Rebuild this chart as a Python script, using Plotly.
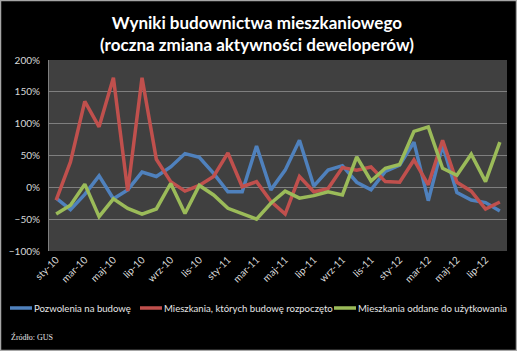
import plotly.graph_objects as go

months = ["sty", "lut", "mar", "kwi", "maj", "cze", "lip", "sie", "wrz", "paź", "lis", "gru"]
categories = [f"{m}-{y}" for y in ["10", "11", "12"] for m in months][:32]

pozwolenia = [-17, -35, -11, 18, -18, -4, 24, 17, 32, 53, 47, 22, -7, -7, 65, -4,
              27, 74, 2, 27, 34, 8, -4, 25, 35, 71, -21, 66, -8, -20, -24, -37]
rozpoczete = [-20, 40, 135, 95, 172, -6, 172, 44, 9, -6, 3, 17, 54, 1, 9, -22,
              -42, 17, -7, -2, 31, 27, 32, 9, 8, 43, 4, 74, 8, -6, -34, -23]
oddane = [-42, -28, 5, -46, -18, -33, -42, -34, 6, -41, 3, -12, -33, -41, -50, -25,
          -6, -17, -13, -7, -12, 48, 10, 30, 36, 88, 95, 30, 19, 52, 9, 71]

series_names = ["Pozwolenia na budowę", "Mieszkania, których budowę rozpoczęto",
                "Mieszkania oddane do użytkowania"]
series_values = [pozwolenia, rozpoczete, oddane]
series_colors = ["#4F81BD", "#C0504D", "#9BBB59"]

W, H = 517, 351
ml, mr, mt, mb = 49, 10, 60, 100
pw, ph = W - ml - mr, H - mt - mb


def px2paper_x(p):
    return (p - ml) / pw


def px2paper_y(p):
    return (H - mb - p) / ph


fig = go.Figure()
x = list(range(len(categories)))
for name, vals, col in zip(series_names, series_values, series_colors):
    fig.add_trace(go.Scatter(x=x, y=vals, mode="lines", name=name,
                             line=dict(color=col, width=3.5), showlegend=False))

tickvals = x[::2]
ticktext = categories[::2]

fig.update_layout(
    width=W, height=H,
    margin=dict(l=ml, r=mr, t=mt, b=mb),
    paper_bgcolor="#000000",
    plot_bgcolor="#404040",
    font=dict(family="Lato, Open Sans, sans-serif", color="#d9d9d9", size=10),
    title=dict(text="<b>Wyniki budownictwa mieszkaniowego<br>(roczna zmiana aktywności deweloperów)</b>",
               x=0.497, xanchor="center", y=1 - 29 / H, yanchor="middle",
               font=dict(size=17, color="#ffffff", family="Lato, Open Sans, sans-serif")),
    xaxis=dict(range=[-0.5, len(categories) - 0.5], tickvals=tickvals, ticktext=ticktext,
               tickangle=-45, showgrid=False, zeroline=False, showline=False,
               tickfont=dict(size=10, color="#d9d9d9"), ticks=""),
    yaxis=dict(range=[-100, 200], dtick=50, ticksuffix="%", showgrid=True,
               gridcolor="#7f7f7f", gridwidth=1, zeroline=False, showline=True,
               linecolor="#7f7f7f", tickfont=dict(size=10, color="#d9d9d9"), ticks="",
               ticklabelstandoff=6),
    showlegend=False,
)

# manual legend (single row, short line samples like the reference)
legend_y = 308
legend_x = [10, 140, 334]
for lx, name, col in zip(legend_x, series_names, series_colors):
    fig.add_shape(type="line", xref="paper", yref="paper",
                  x0=px2paper_x(lx), x1=px2paper_x(lx + 22),
                  y0=px2paper_y(legend_y), y1=px2paper_y(legend_y),
                  line=dict(color=col, width=3.5))
    fig.add_annotation(text=name, xref="paper", yref="paper",
                       x=px2paper_x(lx + 22), y=px2paper_y(legend_y),
                       xanchor="left", yanchor="middle", showarrow=False,
                       font=dict(size=9.6, color="#e6e6e6"))

fig.add_annotation(text="Źródło: GUS", xref="paper", yref="paper",
                   x=px2paper_x(9), y=px2paper_y(337), xanchor="left", yanchor="middle",
                   showarrow=False,
                   font=dict(family="Liberation Serif, serif", size=8, color="#e6e6e6"))

fig.add_shape(type="rect", xref="paper", yref="paper",
              x0=px2paper_x(0.5), x1=px2paper_x(W - 0.5),
              y0=px2paper_y(H - 0.5), y1=px2paper_y(0.5),
              line=dict(color="#a6a6a6", width=1.5), layer="above")

fig.write_html("out.html")
